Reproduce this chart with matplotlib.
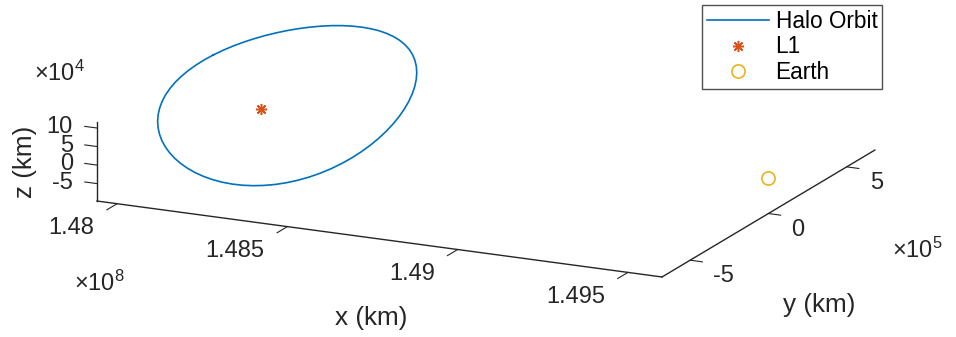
import numpy as np
import matplotlib
matplotlib.use('Agg')
import matplotlib.pyplot as plt
from mpl_toolkits.mplot3d import proj3d

plt.rcParams['font.family'] = ['Liberation Sans', 'DejaVu Sans']
plt.rcParams['mathtext.fontset'] = 'custom'
plt.rcParams['mathtext.rm'] = 'Liberation Sans'

# halo orbit samples (km), one every 5 degrees of phase, closed loop
halo_x = [147970000, 147970800, 147973300, 147977400, 147983100, 147990300, 147999100,
          148009200, 148020800, 148033600, 148047500, 148062500, 148078500, 148095300,
          148112800, 148130800, 148149300, 148168100, 148187000, 148205900, 148224700,
          148243200, 148261200, 148278700, 148295500, 148311500, 148326500, 148340400,
          148353200, 148364800, 148374900, 148383700, 148390900, 148396600, 148400700,
          148403200, 148404000, 148403200, 148400700, 148396600, 148390900, 148383700,
          148374900, 148364800, 148353200, 148340400, 148326500, 148311500, 148295500,
          148278700, 148261200, 148243200, 148224700, 148205900, 148187000, 148168100,
          148149300, 148130800, 148112800, 148095300, 148078500, 148062500, 148047500,
          148033600, 148020800, 148009200, 147999100, 147990300, 147983100, 147977400,
          147973300, 147970800, 147970000]
halo_y = [0, 59300, 118100, 176000, 232600, 287400, 340000, 390000, 437100, 480800,
          520900, 557000, 588900, 616300, 639000, 656800, 669700, 677400, 680000, 677400,
          669700, 656800, 639000, 616300, 588900, 557000, 520900, 480800, 437100, 390000,
          340000, 287400, 232600, 176000, 118100, 59300, 0, -59300, -118100, -176000,
          -232600, -287400, -340000, -390000, -437100, -480800, -520900, -557000, -588900,
          -616300, -639000, -656800, -669700, -677400, -680000, -677400, -669700, -656800,
          -639000, -616300, -588900, -557000, -520900, -480800, -437100, -390000, -340000,
          -287400, -232600, -176000, -118100, -59300, 0]
halo_z = [129500, 127000, 124000, 120400, 116400, 112000, 107200, 102200, 96900, 91400,
          85600, 79800, 73700, 67500, 61200, 54700, 48200, 41400, 34500, 27500, 20400,
          13100, 5700, -1700, -9200, -16700, -24100, -31400, -38500, -45300, -51800,
          -57800, -63400, -68300, -72500, -76000, -78500, -80200, -80800, -80500, -79000,
          -76500, -72900, -68200, -62500, -55700, -48100, -39600, -30300, -20400, -9900,
          900, 12000, 23300, 34500, 45600, 56500, 66900, 76900, 86200, 94800, 102700,
          109600, 115700, 120900, 125100, 128400, 130700, 132100, 132600, 132300, 131300,
          129500]

l1_pos = [1.4811e8, 0.0, 0.0]
earth_pos = [1.496e8, 0.0, 0.0]

xlim = (1.47941e8, 1.4960e8)
ylim = (-6.8e5, 6.8e5)
zlim = (-0.97e5, 1.17e5)
xticks = [1.48e8, 1.485e8, 1.49e8, 1.495e8]
xticklabels = ['1.48', '1.485', '1.49', '1.495']
yticks = [-5e5, 0.0, 5e5]
yticklabels = ['-5', '0', '5']
zticks = [-5e4, 0.0, 5e4, 1e5]
zticklabels = ['-5', '0', '5', '10']

W, H = 956, 337
ink = '#262626'
fig = plt.figure(figsize=(W / 100, H / 100), dpi=100)
ax = fig.add_axes([0.3, 0.1, 300 / W, 300 / H], projection='3d')
ax.set_proj_type('ortho')
ax.view_init(elev=16.45, azim=-64.6)
ax.set_xlim(xlim)
ax.set_ylim(ylim)
ax.set_zlim(zlim)
ax.set_box_aspect((625.6, 496.3, 82.7))

ax.plot(halo_x, halo_y, halo_z, color='#0072BD', lw=1.2, label='Halo Orbit')
ax.plot([l1_pos[0]], [l1_pos[1]], [l1_pos[2]], ls='none', marker=(8, 2, 0),
        ms=8, mew=1.1, color='#D95319', label='L1')
ax.plot([earth_pos[0]], [earth_pos[1]], [earth_pos[2]], ls='none', marker='o',
        ms=9.5, mew=1.2, mfc='none', color='#EDB120', label='Earth')

# bare axis lines only, z axis on the front-left edge
ax.grid(False)
for a in (ax.xaxis, ax.yaxis, ax.zaxis):
    a.set_pane_color((1, 1, 1, 0))
    a.pane.set_edgecolor((1, 1, 1, 0))
    a.line.set_color(ink)
    a.line.set_linewidth(1.0)
    a._axinfo['tick']['inward_factor'] = 0.0
    a._axinfo['tick']['outward_factor'] = 0.0
ax.zaxis.set_ticks_position('lower')
ax.zaxis._get_tickdir = lambda position: 0
ax.xaxis._axinfo['tick']['inward_factor'] = 0.6
ax.yaxis._axinfo['tick']['inward_factor'] = 0.27
ax.zaxis._axinfo['tick']['outward_factor'] = 0.27
ax.set_xticks(xticks)
ax.set_yticks(yticks)
ax.set_zticks(zticks)
ax.set_xticklabels([])
ax.set_yticklabels([])
ax.set_zticklabels([])
ax.tick_params(colors=ink, width=1.0)


def to_px(x, y, z):
    X, Y, _ = proj3d.proj_transform(x, y, z, ax.get_proj())
    return ax.transData.transform((X, Y))


# scale and shift the axes so the box corners sit at (97, 201) and (662, 277)
fig.canvas.draw()
bb = ax.get_position()
S = bb.width * W
c = np.array([(bb.x0 + bb.width / 2) * W, (bb.y0 + bb.height / 2) * H])
fa = (to_px(xlim[0], ylim[0], zlim[0]) - c) / S
fb = (to_px(xlim[1], ylim[0], zlim[0]) - c) / S
ta = np.array([97, H - 201])
tb = np.array([662, H - 277])
S2 = np.linalg.norm(tb - ta) / np.linalg.norm(fb - fa)
c2 = (ta - S2 * fa + tb - S2 * fb) / 2
ax.set_position([(c2[0] - S2 / 2) / W, (c2[1] - S2 / 2) / H, S2 / W, S2 / H])
fig.canvas.draw()

fs_tick = 17
for v, s in zip(xticks, xticklabels):
    p = to_px(v, ylim[0], zlim[0])
    fig.text((p[0] - 23) / W, (p[1] - 24.5) / H, s, ha='right', va='center',
             fontsize=fs_tick, color=ink)
for v, s in zip(yticks, yticklabels):
    p = to_px(xlim[1], v, zlim[0])
    fig.text((p[0] + 23) / W, (p[1] - 16) / H, s, ha='left', va='center',
             fontsize=fs_tick, color=ink)
for v, s in zip(zticks, zticklabels):
    p = to_px(xlim[0], ylim[0], v)
    fig.text((p[0] - 24) / W, (p[1] + 1) / H, s, ha='right', va='center',
             fontsize=fs_tick, color=ink)

fig.text(60 / W, 1 - 73 / H, r'$\times\mathregular{10^{4}}$', ha='center', va='center',
         fontsize=fs_tick, color=ink)
fig.text(99 / W, 1 - 283 / H, r'$\times\mathregular{10^{8}}$', ha='center', va='center',
         fontsize=fs_tick, color=ink)
fig.text(917 / W, 1 - 250 / H, r'$\times\mathregular{10^{5}}$', ha='center', va='center',
         fontsize=fs_tick, color=ink)
fig.text(371 / W, 1 - 318 / H, 'x (km)', ha='center', va='center', fontsize=18.8, color=ink)
fig.text(819 / W, 1 - 305 / H, 'y (km)', ha='center', va='center', fontsize=18.8, color=ink)
fig.text(25 / W, 1 - 162 / H, 'z (km)', ha='center', va='center', rotation=90,
         fontsize=18.8, color=ink)

leg = fig.legend(loc='upper left', bbox_to_anchor=(702 / W, 1 - 5 / H), borderaxespad=0,
                 fontsize=16.3, frameon=True, fancybox=False, edgecolor=ink,
                 handlelength=2.75, handletextpad=0.3, labelspacing=0.13, borderpad=0.2)
leg.get_frame().set_linewidth(1.0)

fig.savefig('out.png', dpi=100)
